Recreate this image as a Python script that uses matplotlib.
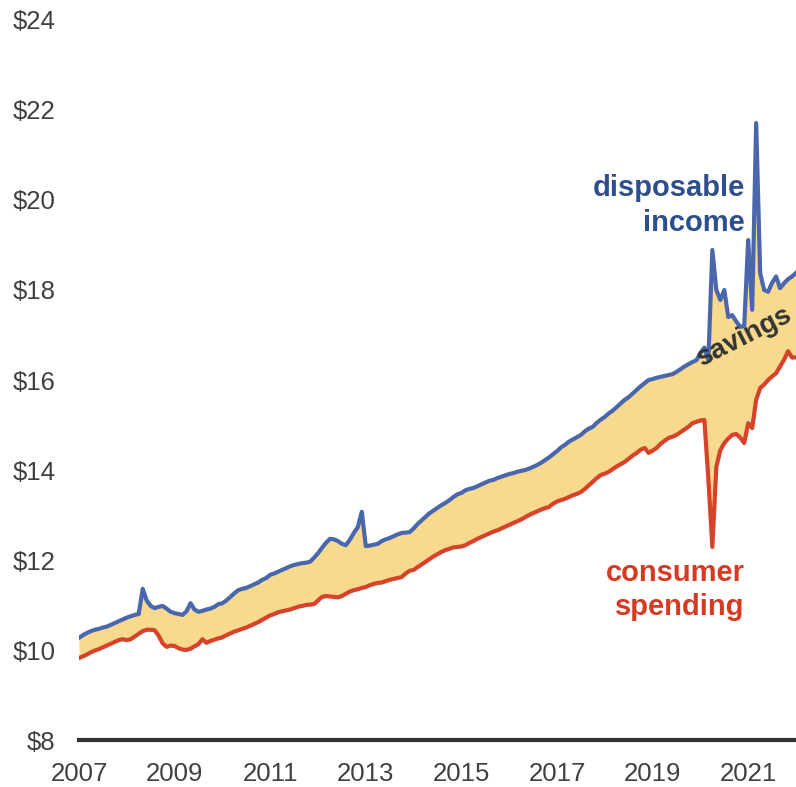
import numpy as np
import matplotlib
matplotlib.use("Agg")
import matplotlib.pyplot as plt

# monthly values, trillions of dollars (annual rate), Jan 2007 - Jan 2022
income = [
    10.27, 10.33, 10.38, 10.42, 10.45, 10.47, 10.50, 10.52, 10.56, 10.60, 10.64, 10.68,  # 2007
    10.72, 10.75, 10.78, 10.80, 11.36, 11.10, 10.98, 10.93, 10.96, 10.98, 10.92, 10.85,  # 2008
    10.82, 10.80, 10.78, 10.86, 11.04, 10.90, 10.85, 10.87, 10.90, 10.92, 10.96, 11.02,  # 2009
    11.04, 11.10, 11.18, 11.26, 11.33, 11.36, 11.38, 11.42, 11.46, 11.50, 11.56, 11.60,  # 2010
    11.67, 11.70, 11.74, 11.78, 11.82, 11.86, 11.89, 11.91, 11.93, 11.94, 11.96, 12.05,  # 2011
    12.15, 12.27, 12.38, 12.47, 12.46, 12.42, 12.36, 12.33, 12.45, 12.60, 12.73, 13.07,  # 2012
    12.31, 12.32, 12.34, 12.36, 12.42, 12.46, 12.49, 12.53, 12.57, 12.60, 12.61, 12.62,  # 2013
    12.70, 12.80, 12.88, 12.96, 13.04, 13.10, 13.16, 13.22, 13.27, 13.33, 13.40, 13.46,  # 2014
    13.49, 13.55, 13.58, 13.60, 13.64, 13.68, 13.72, 13.76, 13.78, 13.82, 13.85, 13.88,  # 2015
    13.91, 13.93, 13.96, 13.98, 14.00, 14.03, 14.07, 14.11, 14.16, 14.22, 14.28, 14.35,  # 2016
    14.42, 14.50, 14.56, 14.63, 14.68, 14.73, 14.78, 14.86, 14.92, 14.96, 15.05, 15.12,  # 2017
    15.18, 15.26, 15.32, 15.40, 15.48, 15.56, 15.62, 15.70, 15.78, 15.86, 15.93, 16.00,  # 2018
    16.02, 16.05, 16.07, 16.09, 16.11, 16.13, 16.18, 16.24, 16.30, 16.35, 16.40, 16.44,  # 2019
    16.60, 16.72, 16.44, 18.89, 18.00, 17.78, 18.00, 17.40, 17.44, 17.30, 17.18, 17.20,  # 2020
    19.11, 17.56, 21.71, 18.38, 18.00, 17.96, 18.16, 18.30, 18.04, 18.15, 18.24, 18.30,  # 2021
    18.38,                                                                               # 2022
]

spending = [
    9.82, 9.86, 9.90, 9.95, 9.99, 10.02, 10.06, 10.10, 10.14, 10.18, 10.22, 10.24,  # 2007
    10.22, 10.24, 10.30, 10.36, 10.42, 10.45, 10.45, 10.44, 10.32, 10.15, 10.07, 10.10,  # 2008
    10.09, 10.04, 10.01, 10.00, 10.03, 10.08, 10.13, 10.24, 10.16, 10.20, 10.23, 10.26,  # 2009
    10.28, 10.33, 10.37, 10.41, 10.44, 10.47, 10.50, 10.54, 10.58, 10.62, 10.67, 10.72,  # 2010
    10.77, 10.80, 10.84, 10.86, 10.88, 10.90, 10.93, 10.96, 10.98, 11.00, 11.01, 11.02,  # 2011
    11.10, 11.18, 11.20, 11.19, 11.18, 11.17, 11.20, 11.25, 11.30, 11.33, 11.35, 11.38,  # 2012
    11.40, 11.44, 11.47, 11.49, 11.50, 11.53, 11.56, 11.58, 11.60, 11.62, 11.70, 11.76,  # 2013
    11.78, 11.84, 11.90, 11.96, 12.02, 12.08, 12.13, 12.18, 12.22, 12.25, 12.28, 12.29,  # 2014
    12.30, 12.33, 12.38, 12.42, 12.47, 12.51, 12.55, 12.59, 12.63, 12.66, 12.70, 12.74,  # 2015
    12.78, 12.82, 12.86, 12.90, 12.95, 13.00, 13.04, 13.08, 13.12, 13.15, 13.18, 13.25,  # 2016
    13.30, 13.33, 13.36, 13.40, 13.44, 13.47, 13.51, 13.58, 13.66, 13.74, 13.82, 13.89,  # 2017
    13.92, 13.96, 14.02, 14.08, 14.13, 14.18, 14.25, 14.32, 14.38, 14.45, 14.49, 14.38,  # 2018
    14.43, 14.49, 14.58, 14.65, 14.71, 14.74, 14.78, 14.84, 14.90, 14.96, 15.04, 15.07,  # 2019
    15.10, 15.11, 13.80, 12.29, 14.07, 14.44, 14.60, 14.70, 14.78, 14.80, 14.72, 14.60,  # 2020
    15.04, 14.93, 15.56, 15.82, 15.90, 16.00, 16.08, 16.15, 16.30, 16.45, 16.64, 16.50,  # 2021
    16.50,                                                                               # 2022
]

start_year = 2007
year_ticks = [2007, 2009, 2011, 2013, 2015, 2017, 2019, 2021]
dollar_ticks = [8, 10, 12, 14, 16, 18, 20, 22, 24]

plt.rcParams['font.family'] = ['Liberation Sans', 'DejaVu Sans']

t = start_year + np.arange(len(income)) / 12.0

fig = plt.figure(figsize=(7.96, 7.87), dpi=100)
ax = fig.add_axes([0.0992, 0.0597, 0.9008, 0.9149])

ax.fill_between(t, spending, income, color='#F8DA8E', linewidth=0)
ax.plot(t, income, color='#4A67AD', linewidth=3, solid_joinstyle='round')
ax.plot(t, spending, color='#D6432A', linewidth=3, solid_joinstyle='round')

ax.set_xlim(2007, 2022)
ax.set_ylim(8, 24)
ax.set_xticks(year_ticks)
ax.set_xticklabels([str(y) for y in year_ticks])
ax.set_yticks(dollar_ticks)
ax.set_yticklabels([f'${v}' for v in dollar_ticks])
ax.tick_params(axis='both', length=0, labelsize=18.5, labelcolor='#404040')
ax.tick_params(axis='y', pad=17)
ax.tick_params(axis='x', pad=16)

for s in ['top', 'right', 'left']:
    ax.spines[s].set_visible(False)
ax.spines['bottom'].set_linewidth(3)
ax.spines['bottom'].set_color('#333333')

ax.text(2020.93, 19.88, 'disposable\nincome', ha='right', va='center',
        fontsize=21, fontweight='bold', color='#2E4F8E', linespacing=1.3)
ax.text(2020.93, 11.33, 'consumer\nspending', ha='right', va='center',
        fontsize=21, fontweight='bold', color='#D63A22', linespacing=1.3)
ax.text(2020.92, 16.95, 'savings', ha='center', va='center', rotation=27,
        fontsize=20, fontweight='bold', color='#333333')

fig.savefig('out.png', dpi=100)
